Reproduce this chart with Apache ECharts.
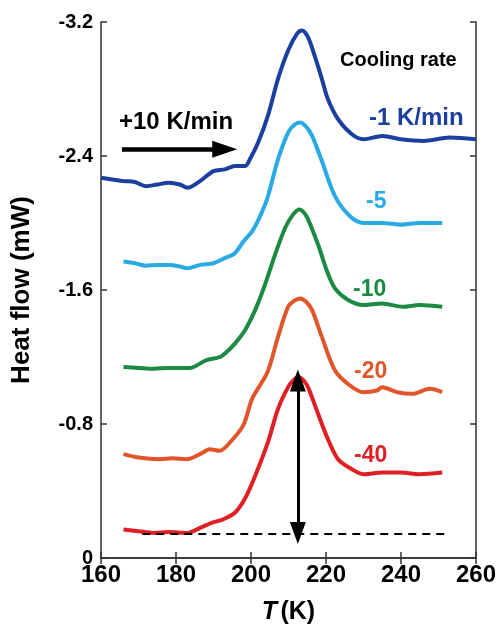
<!DOCTYPE html>
<html>
<head>
<meta charset="utf-8">
<script src="https://cdn.jsdelivr.net/npm/echarts@6/dist/echarts.min.js"></script>
<style>
  html, body { margin: 0; padding: 0; background: #fff; }
  #main { width: 499px; height: 630px; }
</style>
</head>
<body>
<div id="main"></div>
<script>
// heat flow traces (T in K, heat flow in mW)
var t1 = [160, 163, 166, 169, 172, 175, 178, 181, 183, 186.4, 190, 193, 195.7, 198.4, 199.7, 201.9, 204.5, 207.2, 209.9, 212.3, 213.6, 215.2, 217.1, 218.9, 220.5, 223.2, 226.9, 230, 235, 240, 246, 253, 260];
var v1 = [-2.27, -2.26, -2.25, -2.245, -2.22, -2.23, -2.24, -2.23, -2.21, -2.25, -2.31, -2.32, -2.34, -2.34, -2.38, -2.48, -2.64, -2.86, -3.03, -3.13, -3.15, -3.11, -2.99, -2.86, -2.74, -2.62, -2.53, -2.50, -2.52, -2.50, -2.49, -2.51, -2.50];

var t5 = [166, 169, 172, 175, 178.4, 181, 183, 186.5, 190, 193, 195.7, 198, 200.3, 202.4, 204.4, 207.2, 209.9, 211.5, 213.1, 214.7, 216.3, 218.9, 222.4, 226.4, 230, 235, 240, 245, 251];
var v5 = [-1.77, -1.76, -1.745, -1.75, -1.75, -1.74, -1.73, -1.75, -1.76, -1.79, -1.82, -1.89, -1.95, -2.04, -2.15, -2.38, -2.54, -2.585, -2.60, -2.575, -2.52, -2.37, -2.16, -2.04, -2.00, -2.00, -1.99, -2.00, -2.00];

var t10 = [166, 170, 174, 178, 183.7, 188, 191.7, 193.5, 195.7, 198.4, 201.1, 203.7, 206.4, 209.1, 211.2, 213, 214.8, 217.9, 220.3, 222.4, 225.9, 230, 235, 240.5, 245, 251];
var v10 = [-1.14, -1.135, -1.13, -1.135, -1.135, -1.18, -1.20, -1.23, -1.28, -1.36, -1.48, -1.63, -1.81, -1.97, -2.05, -2.08, -2.04, -1.87, -1.71, -1.61, -1.54, -1.51, -1.52, -1.50, -1.51, -1.50];

var t20 = [166, 170, 175.7, 179, 182.9, 186.4, 189, 191.7, 194, 197.9, 200.3, 204.4, 207.2, 209.9, 211.5, 213.1, 214.7, 216.3, 218.9, 222.4, 226.4, 230, 233.6, 235, 239, 243, 247.7, 251];
var v20 = [-0.62, -0.60, -0.59, -0.595, -0.59, -0.62, -0.65, -0.64, -0.68, -0.79, -0.95, -1.11, -1.32, -1.50, -1.535, -1.55, -1.53, -1.48, -1.32, -1.12, -1.03, -0.99, -1.00, -1.02, -0.99, -0.98, -1.01, -0.99];

var t40 = [166, 170, 174, 178, 183, 186.4, 189.5, 192.5, 195.7, 198.4, 201.1, 204.5, 207.2, 209.9, 211.3, 212.6, 214, 215.2, 217.9, 220.5, 223.2, 226.9, 230, 235, 240, 245, 251];
var v40 = [-0.17, -0.16, -0.15, -0.155, -0.15, -0.18, -0.21, -0.23, -0.27, -0.355, -0.49, -0.69, -0.89, -1.02, -1.06, -1.08, -1.06, -1.02, -0.86, -0.71, -0.59, -0.53, -0.50, -0.51, -0.51, -0.50, -0.51];

// annotations
var baseLine = [171, 251.7, -0.145];       // dashed baseline: from T, to T, value
var peakArrow = [212.5, -1.06, -0.15];     // double arrow: T, top, bottom
var heatArrow = [165.6, 193, -2.44];       // heating direction arrow

var xTicks = [160, 180, 200, 220, 240, 260];
var yTicks = [-3.2, -2.4, -1.6, -0.8, 0];

var FONT = "'Liberation Sans', Arial, sans-serif";

function pairs(t, v) {
    var out = [];
    for (var i = 0; i < t.length; i++) out.push([t[i], v[i]]);
    return out;
}

var myChart = echarts.init(document.getElementById('main'));

function trace(name, t, v, color) {
    return {
        name: name,
        type: 'line',
        xAxisIndex: 0,
        yAxisIndex: 0,
        data: pairs(t, v),
        smooth: 0.3,
        showSymbol: false,
        lineStyle: { color: color, width: 4 },
        z: 3
    };
}

var option = {
    backgroundColor: '#fff',
    animation: false,
    grid: { left: 101, right: 23, top: 22, bottom: 67 },
    xAxis: [{
        type: 'value',
        min: xTicks[0], max: xTicks[xTicks.length - 1], interval: 20,
        name: '{i|T} {n|(K)}',
        nameLocation: 'middle',
        nameGap: 42,
        nameTextStyle: {
            rich: {
                i: { fontFamily: FONT, fontSize: 25, fontWeight: 'bold', fontStyle: 'italic', color: '#000' },
                n: { fontFamily: FONT, fontSize: 25, fontWeight: 'bold', color: '#000' }
            }
        },
        axisLine: { lineStyle: { color: '#333', width: 1.5 } },
        axisTick: { inside: true, length: 6, lineStyle: { color: '#333', width: 1.5 } },
        axisLabel: { fontFamily: FONT, fontSize: 24, fontWeight: 'bold', color: '#000', margin: 5 },
        splitLine: { show: false }
    }, {
        type: 'value', position: 'top',
        min: xTicks[0], max: xTicks[xTicks.length - 1], interval: 20,
        axisLine: { lineStyle: { color: '#333', width: 1.5 } },
        axisTick: { inside: true, length: 6, lineStyle: { color: '#333', width: 1.5 } },
        axisLabel: { show: false },
        splitLine: { show: false }
    }],
    yAxis: [{
        type: 'value',
        inverse: true,
        min: yTicks[0], max: yTicks[yTicks.length - 1], interval: 0.8,
        name: 'Heat flow (mW)',
        nameLocation: 'middle',
        nameGap: 66,
        nameTextStyle: { fontFamily: FONT, fontSize: 26, fontWeight: 'bold', color: '#000' },
        axisLine: { show: true, lineStyle: { color: '#333', width: 1.5 } },
        axisTick: { show: true, inside: true, length: 6, lineStyle: { color: '#333', width: 1.5 } },
        axisLabel: {
            fontFamily: FONT, fontSize: 20, fontWeight: 'bold', color: '#000', margin: 8,
            formatter: function (v) { return v === 0 ? '0' : v.toFixed(1); }
        },
        splitLine: { show: false }
    }, {
        type: 'value', position: 'right',
        inverse: true,
        min: yTicks[0], max: yTicks[yTicks.length - 1], interval: 0.8,
        axisLine: { show: true, lineStyle: { color: '#333', width: 1.5 } },
        axisTick: { show: true, inside: true, length: 6, lineStyle: { color: '#333', width: 1.5 } },
        axisLabel: { show: false },
        splitLine: { show: false }
    }],
    series: [
        trace('-1', t1, v1, '#1b3f9e'),
        trace('-5', t5, v5, '#2aaae2'),
        trace('-10', t10, v10, '#1c8a42'),
        trace('-20', t20, v20, '#e0562a'),
        trace('-40', t40, v40, '#e01f25'),
        {
            // annotations drawn in data coordinates
            type: 'line',
            data: [],
            markLine: {
                silent: true,
                animation: false,
                label: { show: false },
                data: [
                    [{ coord: [baseLine[0], baseLine[2]], symbol: 'none', lineStyle: { type: [8, 6], width: 1.8, color: '#000' } },
                     { coord: [baseLine[1], baseLine[2]], symbol: 'none' }],
                    [{ coord: [peakArrow[0], peakArrow[1]], symbol: 'triangle', symbolSize: [16, 22], lineStyle: { type: 'solid', width: 3, color: '#000' } },
                     { coord: [peakArrow[0], peakArrow[2]], symbol: 'triangle', symbolSize: [16, 22] }],
                    [{ coord: [heatArrow[0], heatArrow[2]], symbol: 'none', lineStyle: { type: 'solid', width: 4.5, color: '#000' } },
                     { coord: [heatArrow[1], heatArrow[2]], symbol: 'triangle', symbolSize: [17, 25] }]
                ],
                itemStyle: { color: '#000' },
                lineStyle: { color: '#000', type: 'solid' }
            },
            z: 4
        }
    ],
    graphic: [
        { type: 'text', left: 119, top: 110, style: { text: '+10 K/min', font: "bold 24px " + FONT, fill: '#000' } },
        { type: 'text', left: 340, top: 50, style: { text: 'Cooling rate', font: "bold 20px " + FONT, fill: '#000' } },
        { type: 'text', left: 369, top: 106, style: { text: '-1 K/min', font: "bold 24px " + FONT, fill: '#1b3f9e' } },
        { type: 'text', left: 366, top: 190, style: { text: '-5', font: "bold 23px " + FONT, fill: '#2aaae2' } },
        { type: 'text', left: 353, top: 278, style: { text: '-10', font: "bold 23px " + FONT, fill: '#1c8a42' } },
        { type: 'text', left: 354, top: 360, style: { text: '-20', font: "bold 23px " + FONT, fill: '#e0562a' } },
        { type: 'text', left: 354, top: 444, style: { text: '-40', font: "bold 23px " + FONT, fill: '#e01f25' } }
    ]
};

myChart.setOption(option);
</script>
</body>
</html>
